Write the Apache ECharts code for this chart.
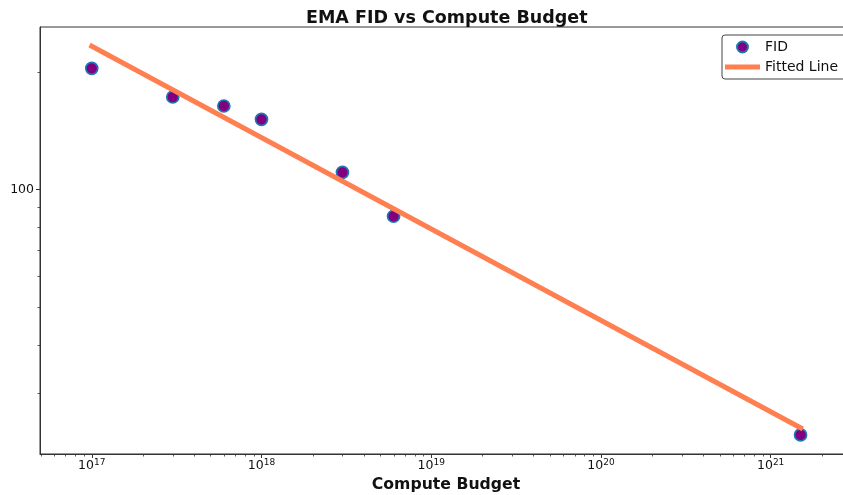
<!DOCTYPE html>
<html>
<head>
<meta charset="utf-8">
<script src="https://cdn.jsdelivr.net/npm/echarts@6/dist/echarts.min.js"></script>
<style>
  html, body { margin: 0; padding: 0; background: #fff; }
  #chart { width: 843px; height: 495px; }
</style>
</head>
<body>
<div id="chart"></div>
<script>
// measured points (compute budget -> EMA FID)
const computeBudget = [1e17, 3e17, 6e17, 1e18, 3e18, 6e18, 1.5e21]
const fidValues = [204, 172.3, 163.4, 151, 110.5, 85.3, 23.5]

// fitted power law, end points
const fitX = [1e17, 1.5e21]
const fitY = [232.5, 24.5]

// axis ranges
const xMin = Math.pow(10, 16.695)
const xMax = Math.pow(10, 21.438)
const yMin = 21.0
const yMax = 260.3

// minor tick positions
const xDecades = [1e16, 1e17, 1e18, 1e19, 1e20, 1e21]
const minorSteps = [2, 3, 4, 5, 6, 7, 8, 9]
const yMinorTicks = [30, 40, 50, 60, 70, 80, 90, 200]

const xMinorTicks = []
xDecades.forEach(d => minorSteps.forEach(m => {
  const v = d * m
  if (v > xMin && v < xMax) xMinorTicks.push([v, 100])
}))

const font = 'DejaVu Sans'
const textColor = '#111'
const axisColor = '#333'

const chart = echarts.init(document.getElementById('chart'))

const option = {
  animation: false,
  backgroundColor: '#fff',
  textStyle: { fontFamily: font, color: textColor },
  title: {
    text: 'EMA FID vs Compute Budget',
    left: 301,
    top: 4,
    textStyle: { fontFamily: font, fontSize: 17.5, fontWeight: 'bold', color: textColor }
  },
  legend: {
    data: [
      { name: 'FID' },
      { name: 'Fitted Line', icon: 'path://M0,0L35,0L35,5L0,5Z' }
    ],
    orient: 'vertical',
    left: 722,
    top: 35,
    padding: [5, 14, 5, 3],
    itemWidth: 35,
    itemHeight: 11,
    itemGap: 6,
    symbolKeepAspect: true,
    borderColor: '#444',
    borderWidth: 1,
    borderRadius: 3,
    backgroundColor: '#fff',
    textStyle: { fontFamily: font, fontSize: 14, lineHeight: 14, color: textColor }
  },
  grid: {
    left: 40,
    top: 27,
    right: -2,
    bottom: 41,
    outerBoundsMode: 'none',
    containLabel: false,
    show: true,
    borderColor: axisColor,
    borderWidth: 1,
    backgroundColor: 'transparent'
  },
  xAxis: {
    type: 'log',
    logBase: 10,
    min: xMin,
    max: xMax,
    name: 'Compute Budget',
    nameLocation: 'middle',
    nameGap: 16,
    nameTextStyle: { fontFamily: font, fontSize: 15.7, fontWeight: 'bold', color: textColor, padding: [0, 0, 0, 7] },
    axisLine: { show: true, lineStyle: { color: axisColor, width: 1 } },
    axisTick: { show: true, length: 4, lineStyle: { color: axisColor } },
    splitLine: { show: false },
    axisLabel: {
      margin: 4,
      showMinLabel: false,
      showMaxLabel: false,
      formatter: function (v) {
        const e = Math.log10(v)
        if (Math.abs(e - Math.round(e)) > 1e-6) return ''
        return '{b|10}{s|' + Math.round(e) + '}'
      },
      rich: {
        b: { fontFamily: font, fontSize: 12.5, color: textColor, lineHeight: 16, verticalAlign: 'middle' },
        s: { fontFamily: font, fontSize: 9, color: textColor, verticalAlign: 'top' }
      }
    }
  },
  yAxis: {
    type: 'log',
    logBase: 10,
    min: yMin,
    max: yMax,
    axisLine: { show: true, lineStyle: { color: axisColor, width: 1 } },
    axisTick: { show: true, length: 4, lineStyle: { color: axisColor } },
    splitLine: { show: false },
    axisLabel: {
      margin: 6,
      fontFamily: font,
      fontSize: 12.5,
      color: textColor,
      showMinLabel: false,
      showMaxLabel: false,
      formatter: function (v) {
        return Math.abs(v - 100) < 1e-6 ? '100' : ''
      }
    }
  },
  series: [
    {
      name: 'FID',
      type: 'scatter',
      data: computeBudget.map((x, i) => [x, fidValues[i]]),
      symbol: 'circle',
      symbolSize: 12,
      itemStyle: { color: '#800080', borderColor: '#1f77b4', borderWidth: 1.7, opacity: 1 },
      z: 2
    },
    {
      name: 'Fitted Line',
      type: 'line',
      data: fitX.map((x, i) => [x, fitY[i]]),
      symbol: 'none',
      lineStyle: { color: '#ff7f50', width: 5, cap: 'square' },
      itemStyle: { color: '#ff7f50' },
      z: 3
    },
    {
      // x minor ticks
      type: 'custom',
      silent: true,
      data: xMinorTicks,
      renderItem: function (params, api) {
        const p = api.coord([api.value(0), 100])
        const yb = params.coordSys.y + params.coordSys.height
        return {
          type: 'line',
          shape: { x1: Math.round(p[0]) + 0.5, y1: yb, x2: Math.round(p[0]) + 0.5, y2: yb + 2.5 },
          style: { stroke: axisColor, lineWidth: 0.8 }
        }
      },
      z: 5
    },
    {
      // y minor ticks
      type: 'custom',
      silent: true,
      data: yMinorTicks.map(v => [1e18, v]),
      renderItem: function (params, api) {
        const p = api.coord([1e18, api.value(1)])
        const xl = params.coordSys.x
        return {
          type: 'line',
          shape: { x1: xl, y1: Math.round(p[1]) + 0.5, x2: xl - 2.5, y2: Math.round(p[1]) + 0.5 },
          style: { stroke: axisColor, lineWidth: 0.8 }
        }
      },
      z: 5
    }
  ]
}

chart.setOption(option)
</script>
</body>
</html>
